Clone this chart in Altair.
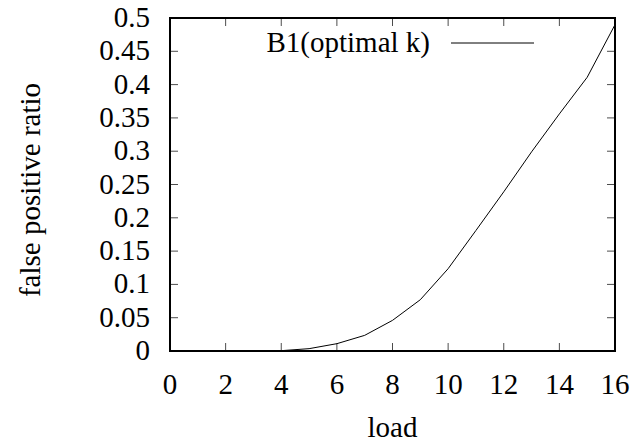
import altair as alt
import pandas as pd

# data
load = [1, 2, 3, 4, 5, 6, 7, 8, 9, 10, 11, 12, 13, 14, 15, 16]
fpr = [0.0, 0.0, 0.0, 0.0005, 0.0035, 0.011, 0.0235, 0.046, 0.077, 0.1236,
       0.181, 0.239, 0.299, 0.356, 0.411, 0.49]
x_ticks = [0, 2, 4, 6, 8, 10, 12, 14, 16]
y_ticks = [0, 0.05, 0.1, 0.15, 0.2, 0.25, 0.3, 0.35, 0.4, 0.45, 0.5]
legend_label = ["B1(optimal k)"]
x_title = ["load"]
y_title = ["false positive ratio"]

FONT = "'Liberation Serif', 'Times New Roman', serif"
FS = 29

df = pd.DataFrame({"load": load, "fpr": fpr})
xt = pd.DataFrame({"v": x_ticks})
yt = pd.DataFrame({"v": y_ticks})
lg = pd.DataFrame({"label": legend_label})
xtt = pd.DataFrame({"t": x_title})
ytt = pd.DataFrame({"t": y_title})

xscale = alt.Scale(domain=[0, 16], nice=False, zero=False)
yscale = alt.Scale(domain=[0, 0.5], nice=False, zero=False)

hidden_axis = alt.Axis(labels=False, ticks=False, domain=False, grid=False, title="")

line = alt.Chart(df).mark_line(color="black", strokeWidth=1).encode(
    x=alt.X("load:Q", scale=xscale, axis=hidden_axis),
    y=alt.Y("fpr:Q", scale=yscale, axis=hidden_axis),
)

frame = alt.Chart(lg).mark_rect(fillOpacity=0, stroke="black", strokeWidth=2).encode(
    x=alt.datum(0, scale=xscale), x2=alt.datum(16),
    y=alt.datum(0, scale=yscale), y2=alt.datum(0.5))

xtick_bot = alt.Chart(xt).mark_tick(orient="vertical", size=8, thickness=1, yOffset=-4,
                                    color="black").encode(
    x=alt.X("v:Q", scale=xscale, axis=None), y=alt.datum(0))
xtick_top = alt.Chart(xt).mark_tick(orient="vertical", size=8, thickness=1, yOffset=4,
                                    color="black").encode(
    x=alt.X("v:Q", scale=xscale, axis=None), y=alt.datum(0.5))
ytick_left = alt.Chart(yt).mark_tick(orient="horizontal", size=8, thickness=1, xOffset=4,
                                     color="black").encode(
    y=alt.Y("v:Q", scale=yscale, axis=None), x=alt.datum(0))
ytick_right = alt.Chart(yt).mark_tick(orient="horizontal", size=8, thickness=1, xOffset=-4,
                                      color="black").encode(
    y=alt.Y("v:Q", scale=yscale, axis=None), x=alt.datum(16))

xlabels = alt.Chart(xt).mark_text(align="center", baseline="top", dy=20, font=FONT,
                                  fontSize=FS, color="black").encode(
    x=alt.X("v:Q", scale=xscale, axis=None), y=alt.datum(0),
    text=alt.Text("v:Q", format="~g"))
ylabels = alt.Chart(yt).mark_text(align="right", baseline="middle", dx=-20, font=FONT,
                                  fontSize=FS, color="black").encode(
    y=alt.Y("v:Q", scale=yscale, axis=None), x=alt.datum(0),
    text=alt.Text("v:Q", format="~g"))

xtitle = alt.Chart(xtt).mark_text(align="center", baseline="alphabetic", font=FONT,
                                  fontSize=FS, color="black").encode(
    text="t:N", x=alt.value(222.5), y=alt.value(419))
ytitle = alt.Chart(ytt).mark_text(align="center", baseline="middle", angle=270, font=FONT,
                                  fontSize=FS, color="black").encode(
    text="t:N", x=alt.value(-139), y=alt.value(172))

leg_text = alt.Chart(lg).mark_text(align="right", baseline="middle", font=FONT,
                                   fontSize=FS, color="black").encode(
    text="label:N", x=alt.value(260), y=alt.value(25))
leg_line = alt.Chart(lg).mark_rule(color="black", strokeWidth=1).encode(
    x=alt.value(281), x2=alt.value(364), y=alt.value(25))

chart = alt.layer(line, frame, xtick_bot, xtick_top, ytick_left, ytick_right,
                  xlabels, ylabels, xtitle, ytitle, leg_text, leg_line).properties(
    width=445, height=333,
    autosize=alt.AutoSizeParams(type="none"),
    padding={"left": 170, "top": 18, "right": 20, "bottom": 93},
).configure_view(strokeWidth=0).configure(background="white", font=FONT)

chart.save("out.html", embed_options={"renderer": "svg", "actions": False})
